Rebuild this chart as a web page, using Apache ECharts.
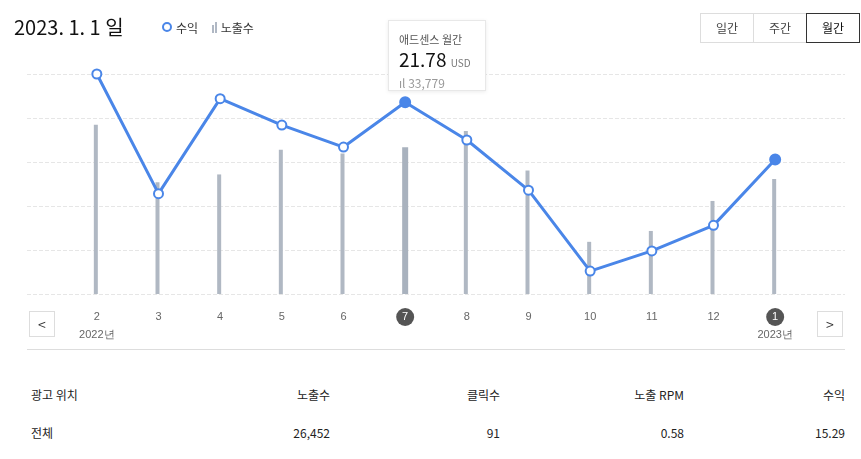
<!DOCTYPE html>
<html><head><meta charset="utf-8">
<script src="https://cdn.jsdelivr.net/npm/echarts@6/dist/echarts.min.js"></script>
<style>
body{margin:0;width:861px;height:459px;background:#fff;font-family:"Noto Sans CJK KR","Noto Sans",sans-serif;color:#222;position:relative;overflow:hidden}
#chart{position:absolute;left:0;top:0;width:861px;height:350px}
.title{position:absolute;left:14px;top:12px;font-size:20px;color:#111}
.legend{position:absolute;left:162px;top:19px;font-size:12px;color:#333}
.legend .dot{display:inline-block;width:6px;height:6px;border:2px solid #4a86e8;border-radius:50%;margin-right:4px;vertical-align:1px}
.legend .bar{display:inline-block;width:2px;height:8px;background:#b0b8c4;margin:0 1px 0 14px;vertical-align:0}
.tabs{position:absolute;left:701px;top:13px;display:flex}
.tabs div{width:52px;height:28px;line-height:28px;text-align:center;font-size:12px;border:1px solid #ddd;margin-left:-1px;color:#444}
.tabs .on{border-color:#333;position:relative;z-index:1;color:#111}
.tip{position:absolute;left:388px;top:20px;width:98px;height:71px;border:1px solid #e8e8e8;background:#fff;box-shadow:0 1px 4px rgba(0,0,0,.08);box-sizing:border-box;padding:10px 10px}
.tip .h{font-size:11px;color:#555}
.tip .v{font-size:19px;color:#111;margin-top:1px;line-height:22px}
.tip .v small{font-size:10px;color:#777}
.tip .c{font-size:12px;color:#999}
.nav{position:absolute;top:311px;width:26px;height:26px;border:1px solid #ddd;box-sizing:border-box;text-align:center;line-height:24px;font-size:14px;color:#333}
.sep{position:absolute;left:27px;top:349px;width:818px;border-top:1px solid #ddd}
table{position:absolute;left:31px;top:375px;width:814px;border-collapse:collapse;font-size:12px;color:#222;table-layout:fixed}
td{height:38px;text-align:right;padding:0}
td:first-child{text-align:left}
</style></head><body>
<div id="chart"></div>
<div class="title">2023. 1. 1 일</div>
<div class="legend"><span class="dot"></span>수익<span class="bar"></span><span class="bar" style="margin-left:0;height:11px"></span> 노출수</div>
<div class="tabs"><div>일간</div><div>주간</div><div class="on">월간</div></div>
<div class="tip"><div class="h">애드센스 월간</div><div class="v">21.78 <small>USD</small></div><div class="c">ıl 33,779</div></div>
<div class="nav" style="left:29px">&lt;</div>
<div class="nav" style="left:817px">&gt;</div>
<div class="sep"></div>
<table>
<tr><td style="width:120px">광고 위치</td><td style="width:179px">노출수</td><td style="width:170px">클릭수</td><td style="width:184px">노출 RPM</td><td>수익</td></tr>
<tr><td>전체</td><td>26,452</td><td>91</td><td>0.58</td><td>15.29</td></tr>
</table>
<script>
const months = ['2', '3', '4', '5', '6', '7', '8', '9', '10', '11', '12', '1'];
const years = ['2022년', '', '', '', '', '', '', '', '', '', '', '2023년'];
const revenue = [25.0, 11.4, 22.2, 19.2, 16.7, 21.78, 17.5, 11.8, 2.6, 4.9, 7.8, 15.29];
const impressions = [38900, 25700, 27500, 33200, 32300, 33779, 37500, 28400, 12000, 14500, 21400, 26452];
const activeIndex = 5;
const lastIndex = 11;

const chart = echarts.init(document.getElementById('chart'));
chart.setOption({
  animation: false,
  grid: [
    { left: 66, right: 55, top: 74, bottom: 56 },
    { left: 27, right: 16, top: 74, bottom: 56 }
  ],
  xAxis: [
    {
      type: 'category', gridIndex: 0, data: months,
      axisLine: { show: false }, axisTick: { show: false },
      axisLabel: {
        interval: 0, margin: 14,
        formatter: (v, i) => {
          const m = (i === activeIndex || i === lastIndex) ? `{act|${v}}` : `{n|${v}}`;
          return years[i] ? `${m}\n{y|${years[i]}}` : m;
        },
        rich: {
          n: { fontSize: 11, color: '#666', height: 18 },
          act: { fontSize: 11, color: '#fff', backgroundColor: '#555', borderRadius: 9, width: 18, height: 18, align: 'center' },
          y: { fontSize: 11, color: '#666', padding: [3, 0, 0, 0] }
        }
      }
    },
    { type: 'value', gridIndex: 1, show: false, min: 0, max: 1 }
  ],
  yAxis: [
    { type: 'value', gridIndex: 0, min: 0, max: 25, interval: 5, show: false },
    { type: 'value', gridIndex: 0, min: 0, max: 50600, show: false },
    {
      type: 'value', gridIndex: 1, min: 0, max: 25, interval: 5,
      axisLabel: { show: false }, axisLine: { show: false }, axisTick: { show: false },
      splitLine: { lineStyle: { type: 'dashed', color: '#e6e6e6' } }
    }
  ],
  series: [
    {
      type: 'bar', xAxisIndex: 0, yAxisIndex: 1, barWidth: 4, barGap: '-100%',
      data: impressions.map((v, i) => i === activeIndex ? '-' : v),
      itemStyle: { color: '#b0b8c3' }
    },
    {
      type: 'bar', xAxisIndex: 0, yAxisIndex: 1, barWidth: 6, barGap: '-100%',
      data: impressions.map((v, i) => i === activeIndex ? v : '-'),
      itemStyle: { color: '#a9b2be' }
    },
    {
      type: 'line', xAxisIndex: 0, yAxisIndex: 0, data: revenue.map((v, i) =>
        (i === activeIndex || i === lastIndex)
          ? { value: v, symbolSize: 10, itemStyle: { color: '#4a86e8' } } : v),
      symbol: 'circle', symbolSize: 9,
      lineStyle: { color: '#4a86e8', width: 3 },
      itemStyle: { color: '#fff', borderColor: '#4a86e8', borderWidth: 2 }
    }
  ]
});
</script>
</body></html>
